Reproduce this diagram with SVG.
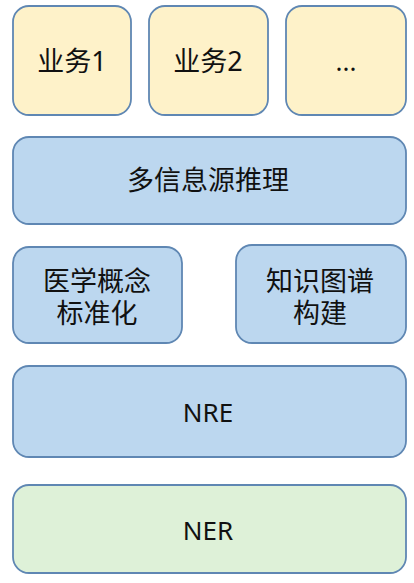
<svg xmlns="http://www.w3.org/2000/svg" width="414" height="583" viewBox="0 0 414 583">
<style>
.box{stroke:#5f87b3;stroke-width:1.8}
.y{fill:#fef2c9}
.b{fill:#bcd7ef}
.g{fill:#def1d8}
text{font-family:"Noto Sans","Noto Sans CJK SC",sans-serif;font-size:26px;fill:#111;text-anchor:middle}
.cjk{font-size:27px}
</style>
<rect width="414" height="583" fill="#ffffff"/>
<g id="b1"><rect class="box y" x="13" y="6" width="118" height="109" rx="16"/><text class="cjk" x="72" y="71">业务1</text></g>
<g id="b2"><rect class="box y" x="149" y="6" width="119" height="109" rx="16"/><text class="cjk" x="208" y="71">业务2</text></g>
<g id="b3"><rect class="box y" x="286" y="6" width="120" height="109" rx="16"/><text x="346" y="71">...</text></g>
<g id="infer"><rect class="box b" x="13" y="137" width="393" height="87" rx="16"/><text class="cjk" x="208" y="190">多信息源推理</text></g>
<g id="norm"><rect class="box b" x="13" y="247" width="169" height="96" rx="16"/><text class="cjk" x="97" y="291"><tspan x="97" y="291">医学概念</tspan><tspan x="97" y="323">标准化</tspan></text></g>
<g id="kg"><rect class="box b" x="236" y="245" width="170" height="98" rx="16"/><text class="cjk" x="320" y="291"><tspan x="320" y="291">知识图谱</tspan><tspan x="320" y="323">构建</tspan></text></g>
<g id="nre"><rect class="box b" x="13" y="366" width="393" height="91" rx="16"/><text x="208" y="422">NRE</text></g>
<g id="ner"><rect class="box g" x="13" y="485" width="393" height="88" rx="16"/><text x="208" y="540">NER</text></g>
<g id="connectors"/>
</svg>
